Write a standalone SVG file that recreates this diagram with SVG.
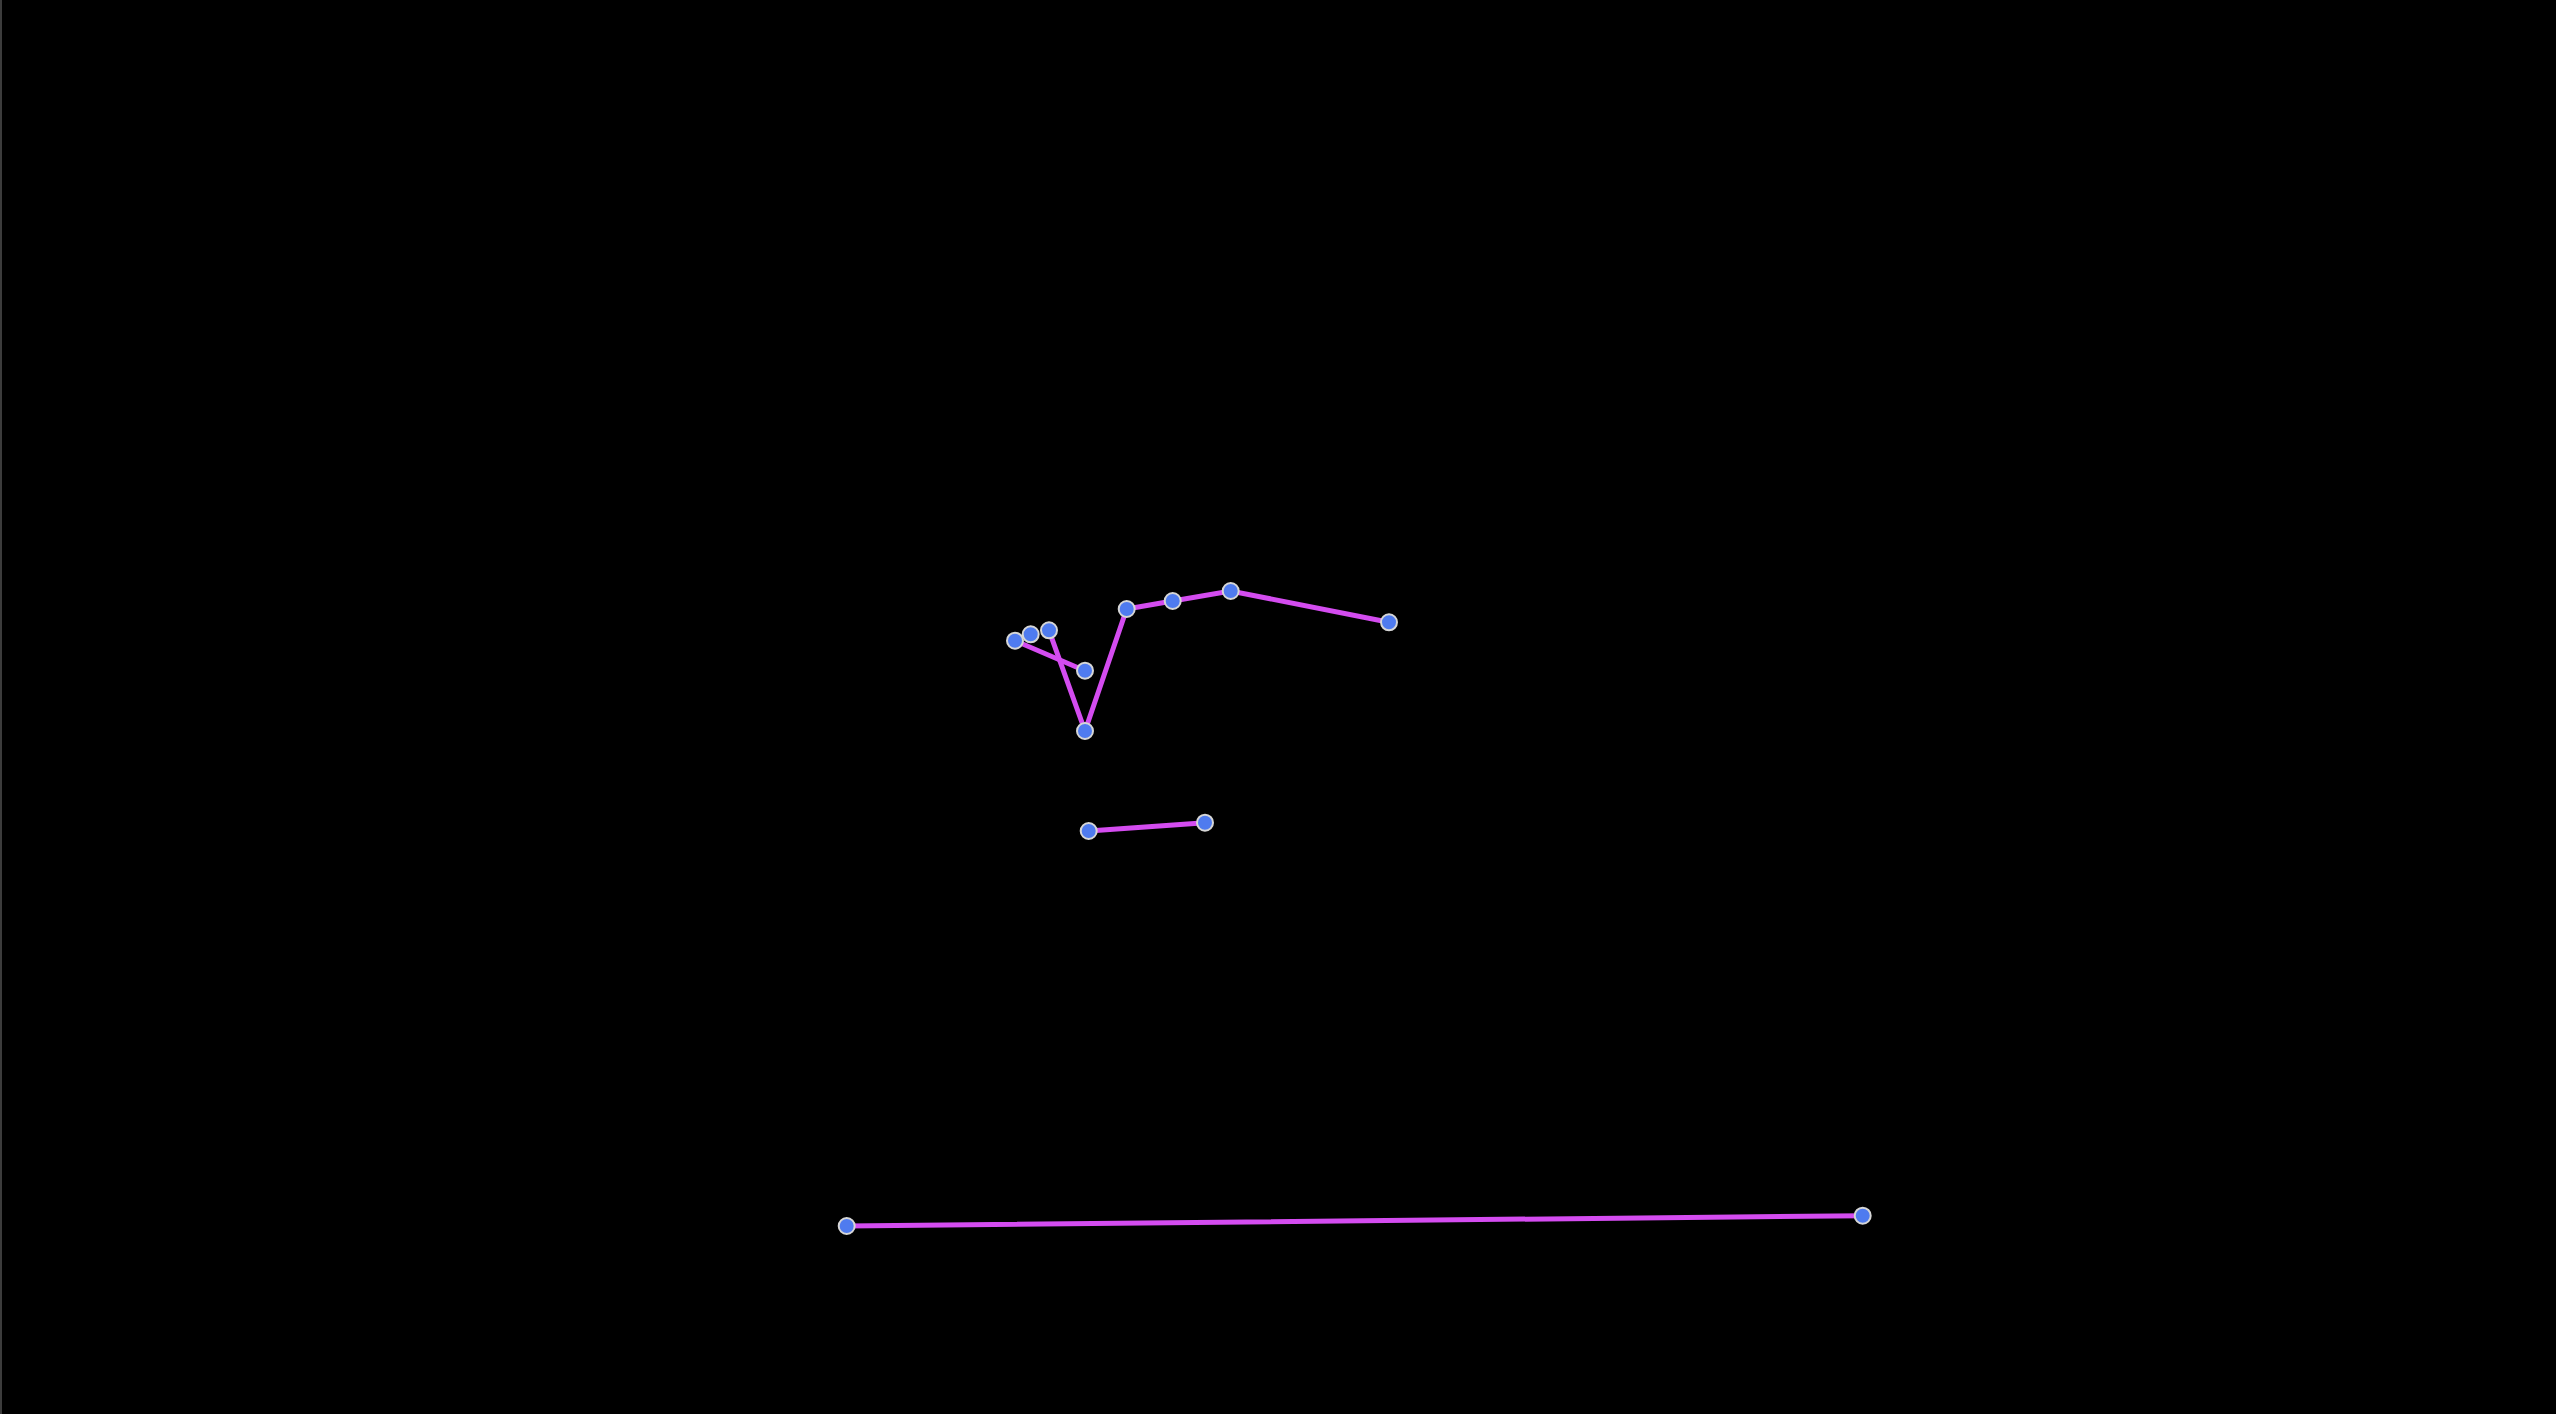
<svg xmlns="http://www.w3.org/2000/svg" width="2556" height="1414" viewBox="0 0 2556 1414">
<style>
.e{stroke:#d44cf0;stroke-width:5;fill:none;stroke-linecap:round}
.n{fill:#4f7bef;stroke:#d6d6d6;stroke-width:2}
</style>
<rect x="0" y="0" width="2556" height="1414" fill="#000"/>
<rect x="0" y="0" width="2" height="1414" fill="#3c3c3c"/>
<g id="connectors">
<line class="e" x1="1015" y1="640.7" x2="1085" y2="670.7"/>
<polyline class="e" points="1049,630.3 1085,731 1126.7,609 1172.7,601 1230.7,591 1389,622.3"/>
<line class="e" x1="1088.7" y1="831" x2="1205" y2="822.7"/>
<line class="e" x1="846.7" y1="1226" x2="1862.7" y2="1215.7"/>
</g>
<g id="n1"><circle class="n" cx="1015" cy="640.7" r="8"/></g>
<g id="n2"><circle class="n" cx="1030.7" cy="634.3" r="8"/></g>
<g id="n3"><circle class="n" cx="1049" cy="630.3" r="8"/></g>
<g id="n4"><circle class="n" cx="1085" cy="670.7" r="8"/></g>
<g id="n5"><circle class="n" cx="1085" cy="731" r="8"/></g>
<g id="n6"><circle class="n" cx="1126.7" cy="609" r="8"/></g>
<g id="n7"><circle class="n" cx="1172.7" cy="601" r="8"/></g>
<g id="n8"><circle class="n" cx="1230.7" cy="591" r="8"/></g>
<g id="n9"><circle class="n" cx="1389" cy="622.3" r="8"/></g>
<g id="n10"><circle class="n" cx="1088.7" cy="831" r="8"/></g>
<g id="n11"><circle class="n" cx="1205" cy="822.7" r="8"/></g>
<g id="n12"><circle class="n" cx="846.7" cy="1226" r="8"/></g>
<g id="n13"><circle class="n" cx="1862.7" cy="1215.7" r="8"/></g>
</svg>
